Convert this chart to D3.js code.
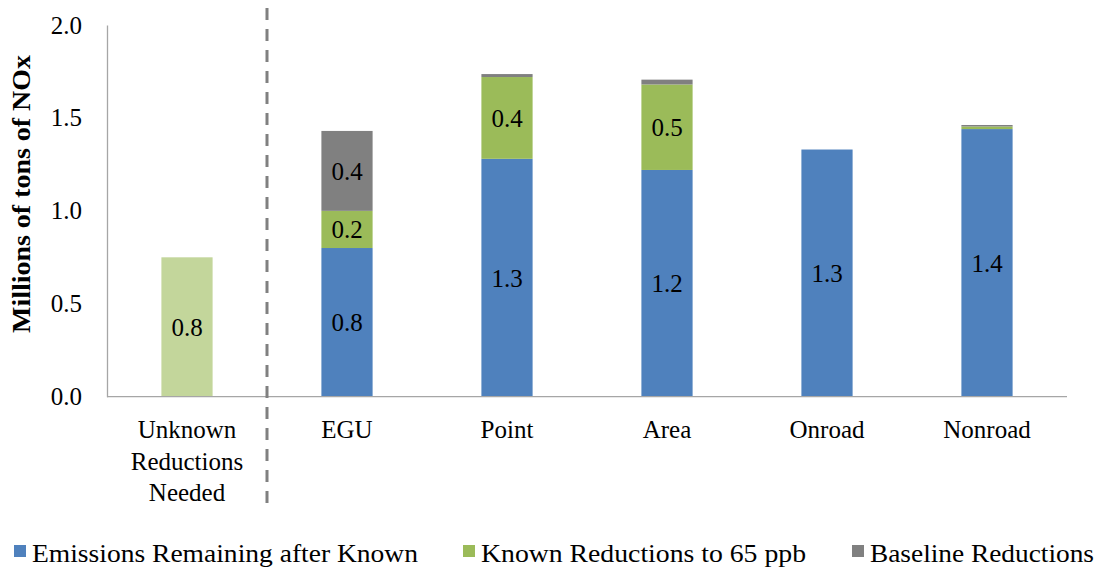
<!DOCTYPE html>
<html>
<head>
<meta charset="utf-8">
<script src="https://cdn.jsdelivr.net/npm/d3@7"></script>
<style>
  html, body { margin: 0; padding: 0; background: #fff; }
</style>
</head>
<body>
<svg id="chart" width="1096" height="568"></svg>
<script>
// Categories along the x axis (multi-line labels split on "\n")
const categories = ["Unknown\nReductions\nNeeded", "EGU", "Point", "Area", "Onroad", "Nonroad"];

// Stacked series, millions of tons of NOx
const unknownNeeded = [0.75, 0, 0, 0, 0, 0];
const remaining     = [0, 0.80, 1.28, 1.22, 1.33, 1.44];
const knownRed      = [0, 0.20, 0.44, 0.46, 0, 0.014];
const baselineRed   = [0, 0.43, 0.016, 0.026, 0, 0.008];

const seriesNames = ["Emissions Remaining after Known", "Known Reductions to 65 ppb", "Baseline Reductions"];
const yTicks = [0, 0.5, 1.0, 1.5, 2.0];

const colors = {
  unknown: "#C3D69B",
  remaining: "#4F81BD",
  known: "#9BBB59",
  baseline: "#808080"
};

const FONT = "Liberation Serif, DejaVu Serif, Noto Serif, Times New Roman, serif";

const svg = d3.select("#chart").attr("font-family", FONT);
const margin = { left: 107, right: 29, top: 25, bottom: 172 };
const W = 1096, H = 568;

const x = d3.scaleBand()
  .domain(categories)
  .range([margin.left, W - margin.right])
  .paddingInner(0.68)
  .paddingOuter(0.34);

const y = d3.scaleLinear()
  .domain([0, 2.0])
  .range([H - margin.bottom + 0.7, margin.top]);

// Build stacked rows
const rows = categories.map((c, i) => ({
  cat: c,
  remaining: remaining[i],
  known: knownRed[i],
  baseline: baselineRed[i]
}));
const stack = d3.stack().keys(["remaining", "known", "baseline"]);
const stacked = stack(rows);
const keyColor = { remaining: colors.remaining, known: colors.known, baseline: colors.baseline };

// Y axis (line + labels, no tick marks)
const yAxis = d3.axisLeft(y).tickValues(yTicks).tickFormat(d3.format(".1f")).tickSize(0).tickPadding(25);
const gy = svg.append("g").attr("transform", `translate(${margin.left},0)`).call(yAxis);
gy.attr("font-family", FONT).attr("font-size", 25);
gy.select(".domain").attr("stroke", "#a6a6a6").attr("stroke-width", 1.3);
gy.selectAll("text").attr("fill", "#000");

// Unknown reductions bar
svg.append("g").selectAll("rect")
  .data(categories.map((c, i) => ({ cat: c, v: unknownNeeded[i] })).filter(d => d.v > 0))
  .join("rect")
  .attr("x", d => x(d.cat))
  .attr("width", x.bandwidth())
  .attr("y", d => y(d.v))
  .attr("height", d => y(0) - y(d.v))
  .attr("fill", colors.unknown);

// Stacked bars
const layers = svg.append("g").selectAll("g")
  .data(stacked)
  .join("g")
  .attr("fill", d => keyColor[d.key]);
layers.selectAll("rect")
  .data(d => d.filter(s => s[1] - s[0] > 0))
  .join("rect")
  .attr("x", d => x(d.data.cat))
  .attr("width", x.bandwidth())
  .attr("y", d => y(d[1]))
  .attr("height", d => y(d[0]) - y(d[1]));

// X baseline
svg.append("line")
  .attr("x1", margin.left).attr("x2", W - margin.right)
  .attr("y1", y(0)).attr("y2", y(0))
  .attr("stroke", "#a6a6a6").attr("stroke-width", 1.3);

// Value labels (only segments large enough to show)
const labelData = [];
categories.forEach((c, i) => {
  if (unknownNeeded[i] > 0) labelData.push({ cat: c, lo: 0, hi: unknownNeeded[i] });
});
stacked.forEach(layer => layer.forEach(s => {
  if (s[1] - s[0] >= 0.1) labelData.push({ cat: s.data.cat, lo: s[0], hi: s[1] });
}));
svg.append("g").selectAll("text")
  .data(labelData)
  .join("text")
  .attr("x", d => x(d.cat) + x.bandwidth() / 2)
  .attr("y", d => (y(d.lo) + y(d.hi)) / 2)
  .attr("dy", "0.35em")
  .attr("text-anchor", "middle")
  .attr("font-size", 25)
  .attr("fill", "#000")
  .text(d => d3.format(".1f")(d.hi - d.lo));

// Category labels
const catG = svg.append("g");
categories.forEach(c => {
  const t = catG.append("text")
    .attr("x", x(c) + x.bandwidth() / 2)
    .attr("y", 438)
    .attr("text-anchor", "middle")
    .attr("font-size", 25)
    .attr("fill", "#000");
  c.split("\n").forEach((line, j) => {
    t.append("tspan").attr("x", x(c) + x.bandwidth() / 2).attr("dy", j === 0 ? 0 : 31.5).text(line);
  });
});

// Dashed separator between the unknown bar and the sectors
const sepX = (x(categories[0]) + x.bandwidth() + x(categories[1])) / 2;
svg.append("line")
  .attr("x1", sepX).attr("x2", sepX)
  .attr("y1", 8).attr("y2", 512)
  .attr("stroke", "#808080")
  .attr("stroke-width", 3)
  .attr("stroke-dasharray", "12,9");

// Y axis title
svg.append("text")
  .attr("transform", "translate(30,194) rotate(-90)")
  .attr("text-anchor", "middle")
  .attr("font-size", 25)
  .attr("font-weight", "bold")
  .attr("textLength", 278)
  .attr("lengthAdjust", "spacingAndGlyphs")
  .attr("fill", "#000")
  .text("Millions of tons of NOx");

// Legend
const legendX = [14, 463, 852];
const legendTextW = [386, 325, 224];
const legendColors = [colors.remaining, colors.known, colors.baseline];
const lg = svg.append("g");
seriesNames.forEach((name, i) => {
  lg.append("rect")
    .attr("x", legendX[i]).attr("y", 545)
    .attr("width", 12).attr("height", 12)
    .attr("fill", legendColors[i]);
  lg.append("text")
    .attr("x", legendX[i] + 18).attr("y", 562)
    .attr("font-size", 25)
    .attr("textLength", legendTextW[i])
    .attr("lengthAdjust", "spacingAndGlyphs")
    .attr("fill", "#000")
    .text(name);
});
</script>
</body>
</html>
